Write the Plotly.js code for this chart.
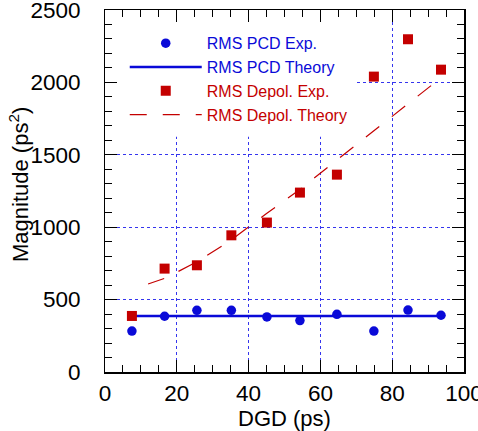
<!DOCTYPE html>
<html>
<head>
<meta charset="utf-8">
<script src="https://cdn.plot.ly/plotly-3.0.1.min.js"></script>
<style>html,body{margin:0;padding:0;background:#fff;}#chart{width:478px;height:431px;}</style>
</head>
<body>
<div id="chart"></div>
<script>
// Data
var dgd = [7.5, 16.6, 25.6, 35.2, 45.1, 54.3, 64.6, 74.9, 84.4, 93.6];
var pcdExp = [283, 385, 426, 426, 380, 355, 398, 283, 428, 392];
var depolExp = [387, 714, 737, 944, 1032, 1239, 1363, 2040, 2298, 2088];
var pcdTheoryX = [7.5, 94];
var pcdTheoryY = [387, 387];
var depolTheoryX = [12, 17, 26, 35, 45, 54, 65, 75, 84, 94];
var depolTheoryY = [608, 650, 767, 909, 1095, 1255, 1472, 1668, 1845, 2040];
var xTicks = [0, 20, 40, 60, 80, 100];
var yTicks = [0, 500, 1000, 1500, 2000, 2500];

var blue = '#0a0ad8';
var red = '#c40000';

var traces = [
  {x: pcdTheoryX, y: pcdTheoryY, mode: 'lines', name: 'RMS PCD Theory',
   line: {color: blue, width: 2.5}, legendrank: 2},
  {x: depolTheoryX, y: depolTheoryY, mode: 'lines', name: 'RMS Depol. Theory',
   line: {color: red, width: 1.2, dash: '17px,16px'}, legendrank: 4},
  {x: dgd, y: pcdExp, mode: 'markers', name: 'RMS PCD Exp.',
   marker: {color: blue, size: 9.5, symbol: 'circle'}, legendrank: 1},
  {x: dgd, y: depolExp, mode: 'markers', name: 'RMS Depol. Exp.',
   marker: {color: red, size: 10, symbol: 'square'}, legendrank: 3}
];

var axisCommon = {
  showline: true, linecolor: '#000', linewidth: 1.5, mirror: 'allticks',
  ticks: 'inside', ticklen: 12, tickwidth: 1, tickcolor: '#000',
  showgrid: true, gridcolor: '#3535ee', griddash: 'dot', gridwidth: 1,
  zeroline: false, ticklabeloverflow: 'allow',
  tickfont: {family: 'Liberation Sans, Arial, sans-serif', size: 22.5, color: '#000'}
};

var layout = {
  width: 478, height: 431,
  margin: {l: 105, r: 14, t: 10, b: 59},
  paper_bgcolor: '#fff', plot_bgcolor: '#fff',
  font: {family: 'Liberation Sans, Arial, sans-serif'},
  xaxis: Object.assign({}, axisCommon, {
    range: [0, 100], tickvals: xTicks, ticktext: xTicks.map(String),
    minor: {dtick: 5, ticks: 'inside', ticklen: 7, tickcolor: '#000', showgrid: false},
    ticklabelstandoff: 0,
    title: {text: 'DGD (ps)', font: {size: 22, color: '#000'}, standoff: 6}
  }),
  yaxis: Object.assign({}, axisCommon, {
    range: [0, 2500], tickvals: yTicks, ticktext: yTicks.map(function(v) { return v + '\u2009'; }),
    minor: {dtick: 100, ticks: 'inside', ticklen: 7, tickcolor: '#000', showgrid: false},
    ticklabelstandoff: 14,
    automargin: false
  }),
  annotations: [{
    text: 'Magnitude (ps<sup>2</sup>)', textangle: -90, showarrow: false,
    xref: 'paper', yref: 'paper', x: 0, y: 0.5, xanchor: 'center', yanchor: 'middle',
    xshift: -86, yshift: 6,
    font: {size: 22, color: '#000', family: 'Liberation Sans, Arial, sans-serif'}
  }],
  shapes: [{
    type: 'rect', xref: 'x', yref: 'y', x0: 0, x1: 69.8, y0: 1625, y1: 2500,
    fillcolor: '#fff', line: {width: 0}, layer: 'between'
  }],
  showlegend: true,
  legend: {
    x: 0.055, y: 0.955, xanchor: 'left', yanchor: 'top',
    bgcolor: 'rgba(0,0,0,0)', borderwidth: 0,
    itemwidth: 72,
    font: {size: 16, family: 'Liberation Sans, Arial, sans-serif'},
    traceorder: 'normal'
  }
};

Plotly.newPlot('chart', traces, layout, {displayModeBar: false, staticPlot: true}).then(function() {
  // colour legend texts to match their series
  var cols = {'RMS PCD Exp.': blue, 'RMS PCD Theory': blue, 'RMS Depol. Exp.': red, 'RMS Depol. Theory': red};
  document.querySelectorAll('.legendtext').forEach(function(t) {
    var c = cols[t.textContent];
    if (c) t.style.fill = c;
  });
});
</script>
</body>
</html>
